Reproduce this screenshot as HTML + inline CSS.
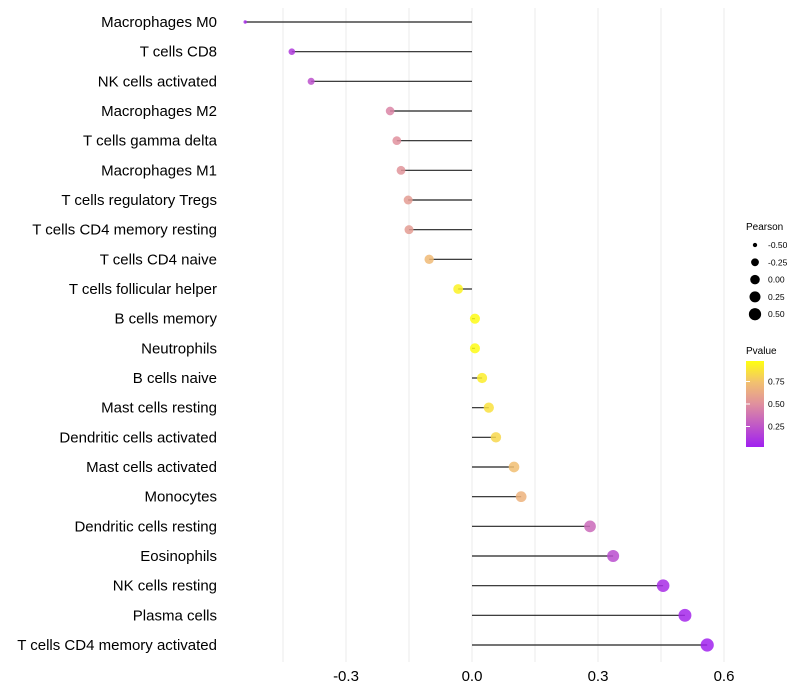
<!DOCTYPE html>
<html><head><meta charset="utf-8"><style>
body{margin:0;background:#fff}svg{display:block;font-family:"Liberation Sans",sans-serif}
</style></head><body>
<svg id="chart" width="800" height="700">
<defs><linearGradient id="pg" x1="0" y1="1" x2="0" y2="0">
<stop offset="0" stop-color="#a020f0"/><stop offset="0.5" stop-color="#e0909e"/><stop offset="0.75" stop-color="#f2c070"/><stop offset="1" stop-color="#ffff10"/></linearGradient></defs>
<g id="grid"></g><g id="marks"></g><g id="labels"></g>
<g font-size="10" fill="#000">
<text x="746" y="230">Pearson</text>
<g id="sizeLeg"></g>
<text x="746" y="354">Pvalue</text>
<rect x="746" y="361" width="18" height="86" fill="url(#pg)"/>
<g id="colLeg" font-size="8.5"></g>
</g>
</svg>
<script>
const categories=["Macrophages M0","T cells CD8","NK cells activated","Macrophages M2","T cells gamma delta","Macrophages M1","T cells regulatory  Tregs","T cells CD4 memory resting","T cells CD4 naive","T cells follicular helper","B cells memory","Neutrophils","B cells naive","Mast cells resting","Dendritic cells activated","Mast cells activated","Monocytes","Dendritic cells resting","Eosinophils","NK cells resting","Plasma cells","T cells CD4 memory activated"];
const pearson=[-0.540,-0.429,-0.383,-0.195,-0.179,-0.169,-0.152,-0.150,-0.102,-0.033,0.007,0.007,0.024,0.040,0.057,0.100,0.117,0.281,0.336,0.455,0.507,0.560];
const pvalue=[0.05,0.12,0.22,0.45,0.5,0.52,0.56,0.56,0.72,0.95,0.99,0.99,0.93,0.88,0.84,0.74,0.68,0.33,0.2,0.06,0.03,0.01];
const xTicks=[-0.3,0,0.3,0.6];
const xTickLabels=["-0.3","0.0","0.3","0.6"];
const gridVals=[-0.45,-0.3,-0.15,0,0.15,0.3,0.45,0.6];
const sizeLegVals=[-0.5,-0.25,0,0.25,0.5];
const colLegVals=[0.75,0.5,0.25];
const NS="http://www.w3.org/2000/svg";
const x=v=>472+v*420;
const y=i=>22+i*(623/21);
const r=v=>v<-0.43?Math.max(1.5,1.7+(v+0.54)*14.5):Math.sqrt(10.9+(v+0.43)*33);
const stops=[[0,[160,32,240]],[0.5,[224,144,158]],[0.75,[242,192,112]],[1,[255,255,16]]];
function col(p){for(let k=1;k<stops.length;k++){if(p<=stops[k][0]){const a=stops[k-1],b=stops[k],t=(p-a[0])/(b[0]-a[0]);return "rgb("+a[1].map((c,j)=>Math.round(c+(b[1][j]-c)*t)).join(",")+")";}}return "rgb(255,255,16)";}
function mk(t,at,parent){const e=document.createElementNS(NS,t);for(const k in at)e.setAttribute(k,at[k]);document.getElementById(parent).appendChild(e);return e;}
gridVals.forEach(v=>{const l=mk("line",{x1:x(v),x2:x(v),y1:8,y2:662,stroke:"#ebebeb","stroke-width":1},"grid");

});
xTicks.forEach((v,i)=>{const t=mk("text",{x:x(v),y:681,"text-anchor":"middle","font-size":15,fill:"#000"},"labels");t.textContent=xTickLabels[i];

});
categories.forEach((c,i)=>{const t=mk("text",{x:217,y:y(i)+5,"text-anchor":"end","font-size":15,fill:"#000"},"labels");t.textContent=c;t.setAttribute("xml:space","preserve");


const l=mk("line",{x1:x(0),x2:x(pearson[i]),y1:y(i),y2:y(i),stroke:"#222","stroke-width":1.2},"marks");


const d=mk("circle",{cx:x(pearson[i]),cy:y(i),r:r(pearson[i]),fill:col(pvalue[i]),"fill-opacity":0.85},"marks");

});
sizeLegVals.forEach((v,i)=>{const cy=245+i*17.3;const d=mk("circle",{cx:755,cy:cy,r:r(v)*0.95,fill:"#000"},"sizeLeg");


const t=mk("text",{x:768,y:cy+3,"font-size":8.5},"sizeLeg");t.textContent=v.toFixed(2);

});
colLegVals.forEach(v=>{const cy=449-v*90;const l=mk("line",{x1:746,x2:750,y1:cy,y2:cy,stroke:"#fff"},"colLeg");


const t=mk("text",{x:768,y:cy+3},"colLeg");t.textContent=v.toFixed(2);

});
</script>
</body></html>
